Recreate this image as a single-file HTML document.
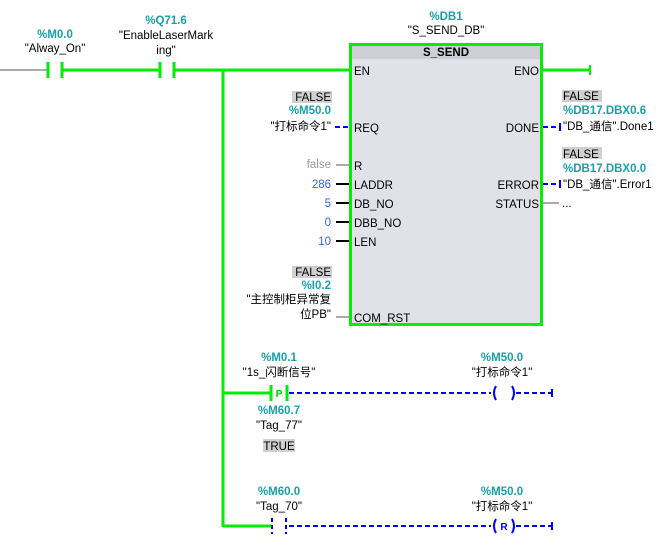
<!DOCTYPE html>
<html><head><meta charset="utf-8"><style>
html,body{margin:0;padding:0;background:#fff;width:664px;height:549px;overflow:hidden}
svg{display:block}
text{font-family:"Liberation Sans","Noto Sans CJK SC",sans-serif;font-size:11.5px;fill:#000}
.t{fill:#1aa0a8;font-weight:bold}
.g{stroke:#00ee00;stroke-width:3;fill:none}
.b{stroke:#0000ff;stroke-width:2;fill:none;stroke-dasharray:5,3}
.bs{stroke:#0000ff;stroke-width:2;fill:none}
.k{stroke:#000;stroke-width:2}
.gr{stroke:#aaa;stroke-width:2}
.r{text-anchor:end}
.m{text-anchor:middle}
.num{fill:#3366dd}
</style></head><body>
<svg width="664" height="549" viewBox="0 0 664 549" xmlns="http://www.w3.org/2000/svg">
<line x1="0" y1="70" x2="48" y2="70" class="gr"/>
<line x1="48" y1="62" x2="48" y2="78" class="g"/>
<line x1="62" y1="62" x2="62" y2="78" class="g"/>
<line x1="62" y1="70" x2="160" y2="70" class="g"/>
<line x1="160" y1="62" x2="160" y2="78" class="g"/>
<line x1="174" y1="62" x2="174" y2="78" class="g"/>
<line x1="174" y1="70" x2="350" y2="70" class="g"/>
<line x1="223" y1="70" x2="223" y2="527" class="g"/>
<text x="55" y="38" class="t m">%M0.0</text>
<text x="55" y="52" class="m">"Alway_On"</text>
<text x="166" y="24" class="t m">%Q71.6</text>
<text x="166" y="39" class="m">"EnableLaserMark</text>
<text x="166" y="54" class="m">ing"</text>
<text x="446" y="20" class="t m">%DB1</text>
<text x="446" y="34" class="m">"S_SEND_DB"</text>
<rect x="350.5" y="44.5" width="191" height="280" fill="#e1e2e8" stroke="#00ee00" stroke-width="3"/>
<rect x="352" y="46" width="188" height="13" fill="#cdced6"/>
<text x="446" y="56" class="m" style="font-weight:bold">S_SEND</text>
<text x="354" y="75">EN</text>
<text x="539" y="75" class="r">ENO</text>
<text x="354" y="132">REQ</text>
<text x="539" y="132" class="r">DONE</text>
<text x="354" y="170">R</text>
<text x="354" y="189">LADDR</text>
<text x="539" y="189" class="r">ERROR</text>
<text x="354" y="208">DB_NO</text>
<text x="539" y="208" class="r">STATUS</text>
<text x="354" y="227">DBB_NO</text>
<text x="354" y="246">LEN</text>
<text x="354" y="322">COM_RST</text>
<line x1="542" y1="70" x2="590" y2="70" class="g"/>
<line x1="590" y1="65" x2="590" y2="75" stroke="#00ee00" stroke-width="2"/>
<rect x="292" y="91" width="40" height="12" fill="#d0d0d0"/>
<text x="331" y="101" class="r">FALSE</text>
<text x="331" y="114" class="t r">%M50.0</text>
<text x="331" y="130" class="r">"打标命令1"</text>
<line x1="335" y1="127" x2="349" y2="127" class="b"/>
<line x1="543" y1="127" x2="560" y2="127" class="b"/>
<line x1="560" y1="123" x2="560" y2="131" class="bs"/>
<rect x="562" y="90" width="40" height="12" fill="#d0d0d0"/>
<text x="563" y="100">FALSE</text>
<text x="563" y="114" class="t">%DB17.DBX0.6</text>
<text x="563" y="130">"DB_通信".Done1</text>
<line x1="543" y1="184" x2="560" y2="184" class="b"/>
<line x1="560" y1="180" x2="560" y2="188" class="bs"/>
<rect x="562" y="147" width="40" height="12" fill="#d0d0d0"/>
<text x="563" y="158">FALSE</text>
<text x="563" y="172" class="t">%DB17.DBX0.0</text>
<text x="563" y="188">"DB_通信".Error1</text>
<line x1="543" y1="203" x2="559" y2="203" class="gr"/>
<text x="562" y="207">...</text>
<line x1="336" y1="165" x2="349" y2="165" class="gr"/>
<text x="331" y="168" class="r" style="fill:#999">false</text>
<line x1="336" y1="184" x2="349" y2="184" class="k"/>
<text x="331" y="188" class="r num">286</text>
<line x1="336" y1="203" x2="349" y2="203" class="k"/>
<text x="331" y="207" class="r num">5</text>
<line x1="336" y1="222" x2="349" y2="222" class="k"/>
<text x="331" y="226" class="r num">0</text>
<line x1="336" y1="241" x2="349" y2="241" class="k"/>
<text x="331" y="245" class="r num">10</text>
<rect x="292" y="266" width="40" height="12" fill="#d0d0d0"/>
<text x="331" y="276" class="r">FALSE</text>
<text x="331" y="289" class="t r">%I0.2</text>
<text x="331" y="303" class="r">"主控制柜异常复</text>
<text x="331" y="318" class="r">位PB"</text>
<line x1="336" y1="317" x2="349" y2="317" class="gr"/>
<line x1="223" y1="393" x2="271" y2="393" class="g"/>
<line x1="271" y1="385" x2="271" y2="401" class="g"/>
<line x1="287" y1="385" x2="287" y2="401" class="g"/>
<text x="279" y="397" class="m" style="fill:#00cc00;font-weight:bold;font-size:10px">P</text>
<line x1="289" y1="393" x2="491" y2="393" class="b"/>
<path d="M496 386 Q492 393 496 400" class="bs"/>
<path d="M512 386 Q516 393 512 400" class="bs"/>
<line x1="516" y1="393" x2="552" y2="393" class="b"/>
<line x1="552" y1="389" x2="552" y2="397" class="bs"/>
<text x="279" y="361" class="t m">%M0.1</text>
<text x="279" y="376" class="m">"1s_闪断信号"</text>
<text x="279" y="414" class="t m">%M60.7</text>
<text x="279" y="429" class="m">"Tag_77"</text>
<rect x="263" y="439" width="32" height="13" fill="#d0d0d0"/>
<text x="279" y="450" class="m">TRUE</text>
<text x="502" y="361" class="t m">%M50.0</text>
<text x="502" y="376" class="m">"打标命令1"</text>
<line x1="223" y1="526" x2="271" y2="526" class="g"/>
<line x1="272" y1="518" x2="272" y2="534" class="b" style="stroke-dasharray:4,3"/>
<line x1="286" y1="518" x2="286" y2="534" class="b" style="stroke-dasharray:4,3"/>
<line x1="289" y1="526" x2="491" y2="526" class="b"/>
<path d="M496 519 Q492 526 496 533" class="bs"/>
<path d="M512 519 Q516 526 512 533" class="bs"/>
<text x="504" y="530" class="m" style="fill:#0000ff;font-weight:bold;font-size:10px">R</text>
<line x1="516" y1="526" x2="552" y2="526" class="b"/>
<line x1="552" y1="522" x2="552" y2="530" class="bs"/>
<text x="279" y="495" class="t m">%M60.0</text>
<text x="279" y="510" class="m">"Tag_70"</text>
<text x="502" y="495" class="t m">%M50.0</text>
<text x="502" y="510" class="m">"打标命令1"</text>
</svg>
</body></html>
